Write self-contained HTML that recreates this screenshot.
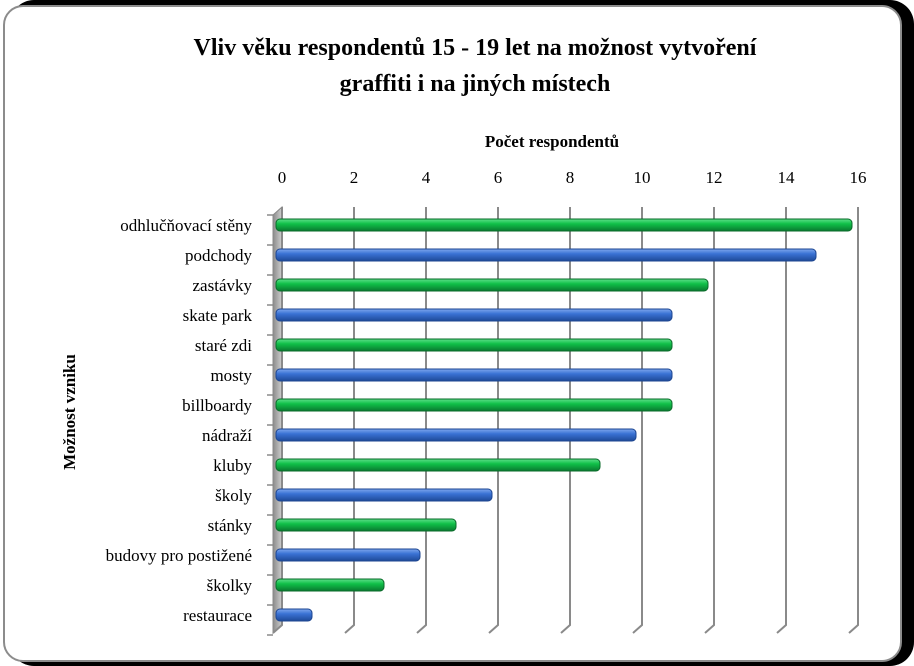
<!DOCTYPE html>
<html><head><meta charset="utf-8"><style>
html,body{margin:0;padding:0;background:#fff;}
#wrap{position:relative;width:914px;height:666px;overflow:hidden;font-family:"Liberation Serif",serif;}
</style></head><body>
<div id="wrap">
<div style="position:absolute;left:10px;top:0;width:904px;height:666px;background:#000;border-radius:24px;"></div>
<div style="position:absolute;left:3px;top:5px;width:895px;height:653px;background:#fff;border:2px solid #8c8c8c;border-radius:20px;"></div>
<svg id="chart" width="914" height="666" style="position:absolute;left:0;top:0">
<defs>
<linearGradient id="gG" x1="0" y1="0" x2="0" y2="1"><stop offset="0" stop-color="#5fe08a"/><stop offset="0.4" stop-color="#10c048"/><stop offset="1" stop-color="#0a7a30"/></linearGradient>
<linearGradient id="gB" x1="0" y1="0" x2="0" y2="1"><stop offset="0" stop-color="#7fa8ee"/><stop offset="0.4" stop-color="#3a72d4"/><stop offset="1" stop-color="#1e4a98"/></linearGradient>
<linearGradient id="gW" x1="0" y1="0" x2="1" y2="0"><stop offset="0" stop-color="#8a8a8a"/><stop offset="1" stop-color="#d0d0d0"/></linearGradient>
</defs>
<g id="g"></g>
</svg>
</div>
<script>
const categories=["odhlučňovací stěny","podchody","zastávky","skate park","staré zdi","mosty","billboardy","nádraží","kluby","školy","stánky","budovy pro postižené","školky","restaurace"];
const values=[16,15,12,11,11,11,11,10,9,6,5,4,3,1];
const ticks=[0,2,4,6,8,10,12,14,16];
const x0=282,xs=36,yTop=207,rowH=30,n=categories.length,yBot=yTop+rowH*n+6;
const X=v=>x0+v*xs;
const Y=i=>yTop+rowH*i+18;
const g=document.getElementById('g');
const NS="http://www.w3.org/2000/svg";
function mk(t,a,txt){const e=document.createElementNS(NS,t);for(const k in a)e.setAttribute(k,a[k]);if(txt!=null)e.textContent=txt;g.appendChild(e);return e;}
let e;
e=mk('text',{x:475,y:55,'text-anchor':'middle','font-size':24,'font-weight':'bold'},"Vliv věku respondentů 15 - 19 let na možnost vytvoření");


e=mk('text',{x:475,y:91,'text-anchor':'middle','font-size':24,'font-weight':'bold'},"graffiti i na jiných místech");


e=mk('text',{x:552,y:147,'text-anchor':'middle','font-size':17,'font-weight':'bold'},"Počet respondentů");


e=mk('text',{x:75,y:412,'text-anchor':'middle','font-size':17,'font-weight':'bold',transform:'rotate(-90 75 412)'},"Možnost vzniku");


// side wall
e=mk('polygon',{points:`${x0-9},${yTop+8} ${x0},${yTop} ${x0},${yBot-8} ${x0-9},${yBot}`,fill:'url(#gW)',stroke:'#888','stroke-width':1});


ticks.forEach(t=>{
 const x=X(t);
 e=mk('polyline',{points:`${x},${yTop} ${x},${yBot-8} ${x-9},${yBot}`,fill:'none',stroke:'#8a8a8a','stroke-width':2});
 
 
 e=mk('text',{x:x,y:183,'text-anchor':'middle','font-size':17},String(t));
 
 
});
for(let i=0;i<=n;i++){
 const y=yTop+8+rowH*i;
 e=mk('line',{x1:x0-15,y1:y,x2:x0-9,y2:y,stroke:'#8a8a8a','stroke-width':1.5});
 
 
}
categories.forEach((c,i)=>{
 const y=Y(i);
 e=mk('text',{x:252,y:y+6,'text-anchor':'end','font-size':17},c);
 
 
 e=mk('rect',{x:x0-6,y:y-6,width:X(values[i])-x0,height:12,rx:4,fill:i%2?'url(#gB)':'url(#gG)',stroke:i%2?'#1d4590':'#0a6a2a','stroke-width':1});
 
 
});
</script>
</body></html>
